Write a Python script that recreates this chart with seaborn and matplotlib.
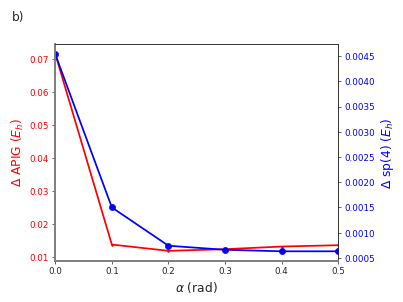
import numpy as np
import pandas as pd
import seaborn as sns
import matplotlib
matplotlib.use('Agg')
import matplotlib.pyplot as plt

alpha = [0.0, 0.1, 0.2, 0.3, 0.4, 0.5]
d_apig = [0.0715, 0.0139, 0.0120, 0.0125, 0.0133, 0.0137]
d_sp4 = [0.00454, 0.00150, 0.00074, 0.00066, 0.00063, 0.00063]

df = pd.DataFrame({'alpha': alpha, 'apig': d_apig, 'sp4': d_sp4})

sns.set_style('ticks')
plt.rcParams['font.family'] = ['DejaVu Sans']

fig, ax = plt.subplots(figsize=(6.4, 4.8), dpi=63)
fig.subplots_adjust(left=0.137, right=0.839, bottom=0.136, top=0.853)

sns.lineplot(data=df, x='alpha', y='apig', ax=ax, color='red', marker='.',
             markersize=4, markeredgecolor='red', lw=2)
ax.set_xlim(0, 0.5)
ax.set_xlabel(r'$\alpha$ (rad)', fontsize=14)
ax.set_ylabel(r'$\Delta$ APIG ($E_h$)', color='red', fontsize=14)
ax.tick_params(axis='y', labelcolor='red', labelsize=10)
ax.tick_params(axis='x', labelsize=10)
ax.set_xticks(alpha)
ax.spines['left'].set_color('gray')
ax.spines['bottom'].set_color('gray')
ax.spines['left'].set_linewidth(2)
ax.spines['bottom'].set_linewidth(2)

ax2 = ax.twinx()
sns.lineplot(data=df, x='alpha', y='sp4', ax=ax2, color='blue', marker='o',
             markersize=7, markeredgecolor='blue', lw=2)
ax2.set_ylabel(r'$\Delta$ sp(4) ($E_h$)', color='blue', fontsize=14)
ax2.tick_params(axis='y', labelcolor='blue', labelsize=10)
ax2.set_yticks([0.0005, 0.0010, 0.0015, 0.0020, 0.0025, 0.0030, 0.0035, 0.0040, 0.0045])
ax2.set_ylim(0.00044, 0.00474)
ax.set_ylim(0.00897, 0.07445)
ax2.spines['left'].set_color('gray')
ax2.spines['left'].set_linewidth(2)
ax2.spines['bottom'].set_color('gray')
ax2.spines['bottom'].set_linewidth(2)

fig.text(0.03, 0.93, 'b)', fontsize=14)

fig.savefig('out.png', dpi=63)
